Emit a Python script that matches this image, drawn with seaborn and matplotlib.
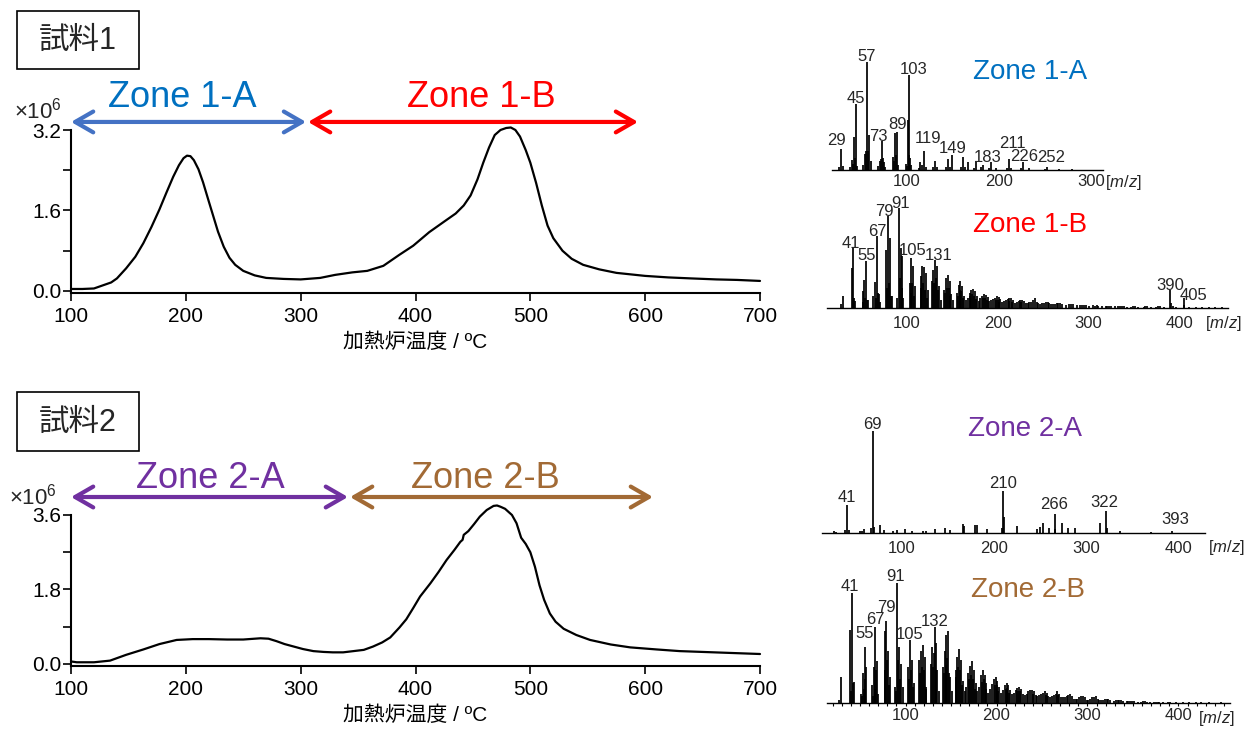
import matplotlib
matplotlib.use("Agg")
import matplotlib.pyplot as plt
import seaborn as sns
import pandas as pd
from matplotlib.patches import Rectangle
from matplotlib.ticker import MultipleLocator, FormatStrFormatter

# ---------------- data ----------------
# Sample 1 thermogram (furnace temperature degC, intensity x10^6)
T1 = [100, 110, 120, 130, 135, 140, 148, 156, 163, 170, 177, 183, 189, 194, 198,
      201, 204, 207, 211, 215, 220, 224, 228, 233, 238, 243, 250, 260, 270, 285,
      300, 317, 330, 345, 358, 372, 386, 398, 412, 425, 435, 442, 448, 454, 459,
      464, 469, 474, 479, 483, 487, 491, 496, 500, 505, 510, 515, 520, 528, 536,
      546, 560, 575, 600, 620, 640, 662, 680, 700]
V1 = [0.04, 0.04, 0.05, 0.13, 0.17, 0.25, 0.45, 0.68, 0.95, 1.27, 1.62, 1.95, 2.27, 2.50, 2.64,
      2.69, 2.68, 2.60, 2.42, 2.16, 1.78, 1.48, 1.18, 0.88, 0.66, 0.52, 0.40, 0.31, 0.26, 0.24,
      0.23, 0.26, 0.32, 0.37, 0.40, 0.50, 0.72, 0.90, 1.17, 1.38, 1.54, 1.70, 1.90, 2.22, 2.55,
      2.85, 3.10, 3.20, 3.24, 3.25, 3.20, 3.07, 2.80, 2.55, 2.15, 1.70, 1.30, 1.05, 0.80, 0.64,
      0.52, 0.43, 0.36, 0.30, 0.27, 0.25, 0.23, 0.22, 0.20]

# Sample 2 thermogram
T2 = [100, 105, 120, 134, 148, 163, 177, 192, 206, 220, 236, 250, 265, 272, 279,
      286, 294, 302, 311, 320, 328, 337, 346, 355, 363, 371, 378, 386, 392, 398,
      404, 413, 420, 427, 434, 439, 441, 442, 446, 451, 456, 462, 468, 471, 474,
      478, 484, 488, 492, 496, 500, 504, 508, 512, 517, 522, 529, 540, 552, 570,
      587, 610, 630, 660, 700]
V2 = [0.06, 0.04, 0.04, 0.08, 0.22, 0.35, 0.48, 0.58, 0.60, 0.60, 0.59, 0.59, 0.62, 0.61, 0.55,
      0.48, 0.42, 0.36, 0.31, 0.29, 0.28, 0.28, 0.31, 0.34, 0.42, 0.52, 0.64, 0.88, 1.08, 1.35,
      1.63, 1.95, 2.22, 2.51, 2.76, 2.95, 3.00, 3.12, 3.21, 3.38, 3.56, 3.72, 3.82, 3.83, 3.80,
      3.75, 3.60, 3.40, 3.05, 2.90, 2.70, 2.35, 1.90, 1.55, 1.22, 1.02, 0.85, 0.70, 0.58, 0.47,
      0.40, 0.35, 0.31, 0.28, 0.24]

Y1_TICKS = [0.0, 1.6, 3.2]
Y2_TICKS = [0.0, 1.8, 3.6]
X_TICKS = [100, 200, 300, 400, 500, 600, 700]
X_LABEL = "加熱炉温度 / ºC"
SAMPLE_NAMES = ["試料1", "試料2"]
ZONE_NAMES = ["Zone 1-A", "Zone 1-B", "Zone 2-A", "Zone 2-B"]
ZONE_RANGES = [(100, 304.7), (306.4, 593.8), (100, 341.2), (343.0, 606.8)]

# Mass spectra (m/z, relative intensity %)
Z1A_MZ = [27, 29, 31, 39, 41, 42, 43, 44, 45, 46,
          53, 55, 56, 57, 58, 59, 61,
          69, 71, 72, 73, 74, 75, 77,
          85, 86, 87, 88, 89, 91,
          99, 100, 101, 102, 103, 104, 105,
          113, 115, 117, 119, 121,
          129, 131, 133,
          143, 145, 147, 149,
          159, 161, 163, 167,
          173, 175, 181, 183, 189, 191, 197,
          209, 211, 213, 224, 226, 233, 250, 252, 265, 279]
Z1A_INT = [3, 19, 4, 3, 9, 6, 31, 11, 61, 4,
           5, 15, 18, 100, 18, 32, 8,
           4, 8, 10, 27, 11, 7, 3,
           12, 8, 34, 14, 35, 5,
           6, 4, 46, 14, 88, 11, 5,
           2, 7, 5, 18, 3,
           3, 8, 3,
           3, 10, 3, 14,
           3, 12, 3, 7,
           2, 8, 3, 5, 2, 7, 2,
           2, 10, 2, 2, 7, 2, 1, 3, 1, 1]
Z1A_LABELS = [29, 45, 57, 73, 89, 103, 119, 149, 183, 211, 226, 252]

Z1B_MZ = [27, 29,
          39, 40, 41, 42, 43,
          51, 52, 53, 54, 55, 56, 57,
          63, 65, 66, 67, 68, 69, 70,
          77, 78, 79, 80, 81, 82, 83,
          89, 91, 92, 93, 94, 95, 96,
          103, 104, 105, 106, 107, 108, 109,
          115, 116, 117, 118, 119, 120, 121, 122, 123,
          128, 129, 130, 131, 132, 133, 134, 135, 137,
          141, 142, 143, 144, 145, 146, 147, 148, 149, 151,
          155, 156, 157, 158, 159, 160, 161, 162, 163, 165,
          167, 169, 170, 171, 172, 173, 174, 175, 176, 177, 179,
          181, 183, 184, 185, 186, 187, 188, 189, 191,
          193, 195, 197, 198, 199, 200, 201, 202, 203, 205,
          207, 209, 211, 212, 213, 215, 216, 217, 219,
          221, 223, 225, 226, 227, 229, 231,
          233, 235, 237, 239, 241, 243, 245,
          247, 249, 251, 253, 255, 257, 259,
          261, 263, 265, 267, 269, 271,
          275, 279, 281, 283, 287,
          291, 293, 295, 297, 301,
          305, 307, 309, 311, 315,
          319, 321, 323, 325, 329,
          333, 335, 337, 339, 343,
          347, 349, 351, 355,
          361, 363, 365, 369,
          375, 377, 379, 383,
          390, 391, 393, 397,
          405, 406, 411, 419, 425, 433, 440, 447]
Z1B_INT = [4, 12,
           40, 8, 60, 10, 7,
           17, 6, 28, 10, 47, 8, 8,
           12, 26, 10, 72, 15, 14, 6,
           58, 20, 92, 25, 70, 12, 12,
           10, 100, 30, 60, 20, 52, 10,
           25, 15, 50, 25, 42, 12, 22,
           32, 20, 42, 25, 41, 18, 35, 10, 18,
           27, 38, 25, 48, 30, 42, 18, 22, 8,
           18, 15, 30, 20, 33, 20, 27, 12, 14, 8,
           15, 12, 23, 18, 27, 17, 22, 10, 12, 8,
           10, 15, 12, 18, 14, 19, 12, 17, 9, 12, 7,
           10, 12, 10, 14, 10, 13, 8, 11, 7,
           8, 9, 10, 8, 12, 8, 11, 6, 9, 6,
           7, 8, 9, 7, 10, 10, 6, 8, 5,
           6, 7, 8, 6, 8, 7, 5,
           5, 6, 6, 8, 10, 6, 5,
           4, 5, 5, 6, 6, 5, 4,
           4, 4, 5, 5, 5, 4,
           3, 4, 4, 4, 3,
           3, 3, 3, 3, 2,
           3, 2, 3, 2, 2,
           2, 2, 2, 2, 2,
           2, 2, 2, 2, 1,
           1, 2, 2, 1,
           1, 2, 2, 1,
           1, 2, 2, 1,
           18, 5, 2, 1,
           10, 3, 1, 1, 1, 1, 1, 1]
Z1B_LABELS = [41, 55, 67, 79, 91, 105, 131, 390, 405]

Z2A_MZ = [27, 29, 39, 41, 43, 55, 57, 59, 67, 69, 70, 77, 81, 91, 95,
          104, 111, 123, 127, 137, 147, 153, 167, 168, 180, 182, 193,
          209, 210, 211, 225, 247, 250, 253, 260, 266, 267, 274, 281, 288,
          315, 322, 323, 337, 370, 393]
Z2A_INT = [2, 1, 3, 28, 3, 2, 2, 4, 5, 100, 6, 8, 3, 2, 3,
           4, 2, 2, 2, 4, 5, 3, 9, 7, 8, 8, 4,
           5, 41, 16, 7, 4, 6, 10, 5, 19, 4, 10, 5, 5,
           10, 22, 5, 2, 1, 2]
Z2A_LABELS = [41, 69, 210, 266, 322, 393]

Z2B_MZ = [27, 29,
          39, 40, 41, 42, 43,
          51, 52, 53, 54, 55, 56, 57,
          63, 64, 65, 66, 67, 68, 69, 70,
          77, 78, 79, 80, 81, 82, 83,
          89, 90, 91, 92, 93, 94, 95, 97,
          103, 104, 105, 106, 107, 108, 109,
          115, 116, 117, 118, 119, 120, 121, 122, 123,
          128, 129, 130, 131, 132, 133, 134, 135, 137,
          141, 142, 143, 144, 145, 146, 147, 148, 149, 151,
          155, 156, 157, 158, 159, 160, 161, 162, 163, 165,
          167, 169, 170, 171, 172, 173, 174, 175, 176, 177, 179,
          181, 183, 184, 185, 186, 187, 188, 189, 191,
          193, 195, 197, 198, 199, 200, 201, 202, 203, 205,
          207, 209, 210, 211, 212, 213, 214, 215, 217,
          219, 221, 223, 224, 225, 226, 227, 229, 231,
          233, 235, 237, 239, 240, 241, 243, 245,
          247, 249, 251, 253, 254, 255, 257, 259,
          261, 263, 265, 267, 268, 269, 271, 273,
          275, 277, 279, 281, 283, 285, 287,
          289, 291, 293, 295, 297, 299, 301,
          303, 305, 307, 309, 311, 313, 315,
          317, 319, 321, 323, 325, 329,
          331, 333, 335, 337, 339, 343,
          345, 347, 349, 351, 355,
          359, 361, 363, 365, 369,
          373, 375, 377, 379, 383,
          389, 391, 397, 405, 411, 419, 425, 433, 447]
Z2B_INT = [3, 22,
           61, 10, 92, 17, 18,
           8, 6, 25, 12, 47, 20, 30,
           15, 6, 30, 12, 64, 28, 35, 8,
           60, 28, 69, 36, 44, 15, 22,
           14, 10, 100, 36, 47, 20, 33, 14,
           30, 20, 53, 28, 36, 14, 17,
           36, 25, 44, 30, 49, 28, 39, 12, 14,
           33, 47, 30, 42, 64, 50, 28, 28, 10,
           30, 25, 44, 32, 57, 38, 60, 25, 22, 10,
           28, 22, 39, 30, 45, 28, 36, 15, 19, 10,
           14, 25, 20, 31, 24, 35, 20, 28, 12, 17, 10,
           14, 24, 18, 28, 20, 24, 12, 17, 9,
           12, 16, 20, 15, 22, 15, 19, 10, 14, 9,
           11, 15, 12, 17, 13, 15, 9, 11, 8,
           9, 11, 13, 10, 14, 10, 12, 8, 7,
           8, 10, 11, 11, 8, 10, 7, 6,
           7, 8, 9, 10, 7, 9, 6, 5,
           6, 7, 8, 10, 7, 8, 5, 5,
           5, 6, 7, 8, 6, 4, 4,
           4, 5, 6, 6, 5, 3, 3,
           4, 5, 5, 6, 4, 3, 3,
           3, 4, 4, 4, 3, 2,
           3, 3, 3, 3, 2, 2,
           2, 2, 2, 2, 1,
           1, 2, 2, 1, 1,
           1, 1, 1, 1, 1,
           1, 1, 1, 1, 1, 1, 1, 1, 1]
Z2B_LABELS = [41, 55, 67, 79, 91, 105, 132]
MS_TICKS_A = [100, 200, 300]
MS_TICKS_B = [100, 200, 300, 400]

# ---------------- style ----------------
sns.set_style("ticks")
plt.rcParams["font.family"] = ["Liberation Sans", "Noto Sans CJK JP", "DejaVu Sans"]
plt.rcParams["mathtext.fontset"] = "custom"
plt.rcParams["mathtext.rm"] = "Liberation Sans"
plt.rcParams["mathtext.it"] = "Liberation Sans:italic"
plt.rcParams["axes.unicode_minus"] = False

W, H = 1255, 729
fig = plt.figure(figsize=(W / 100, H / 100), dpi=100)
fig.patch.set_facecolor("white")


def add_ax(l, t, r, b):
    return fig.add_axes([l / W, 1 - b / H, (r - l) / W, (b - t) / H])


def fx(px):
    return px / W


def fy(py):
    return 1 - py / H


C1A_ARROW, C1A_TEXT = "#4472C4", "#0070C0"
C1B = "#FF0000"
C2A = "#7030A0"
C2B = "#A26A35"


def thermogram(ax, T, V, yticks, ymin):
    df = pd.DataFrame({"T": T, "V": V})
    sns.lineplot(data=df, x="T", y="V", ax=ax, color="black", lw=1.6, sort=False)
    for ln in ax.lines:
        ln.set_clip_on(False)
    ax.set_xlim(100, 700)
    ax.set_ylim(ymin, yticks[-1])
    ax.set_xticks(X_TICKS)
    ax.set_yticks(yticks)
    ax.yaxis.set_minor_locator(MultipleLocator(yticks[1] / 2))
    ax.yaxis.set_major_formatter(FormatStrFormatter("%.1f"))
    for s in ["top", "right"]:
        ax.spines[s].set_visible(False)
    for s in ["left", "bottom"]:
        ax.spines[s].set_linewidth(1.5)
        ax.spines[s].set_color("black")
    ax.tick_params(axis="both", which="both", direction="out", length=5.5,
                   width=1.2, color="black", labelsize=15, labelcolor="black")
    ax.tick_params(axis="x", pad=4.5)
    ax.tick_params(axis="y", pad=1.5)
    ax.set_xlabel(X_LABEL, fontsize=15, labelpad=5, color="black")
    ax.set_ylabel("")
    ax.grid(False)


def zone_arrow(ax, x0, x1, y, color):
    ax.annotate("", xy=(x1, y), xytext=(x0, y), xycoords="data",
                arrowprops=dict(arrowstyle="<->,head_length=1.3,head_width=0.75",
                                color=color, lw=3, shrinkA=0, shrinkB=0,
                                mutation_scale=10),
                annotation_clip=False)


# ---- sample 1 thermogram ----
ax1 = add_ax(71, 130, 760, 293)
thermogram(ax1, T1, V1, Y1_TICKS, -0.04)
zone_arrow(ax1, ZONE_RANGES[0][0], ZONE_RANGES[0][1], 3.36, C1A_ARROW)
zone_arrow(ax1, ZONE_RANGES[1][0], ZONE_RANGES[1][1], 3.36, C1B)
ax1.text(196.7, 3.657, ZONE_NAMES[0], color=C1A_TEXT, fontsize=26, ha="center",
         va="baseline", clip_on=False)
ax1.text(457.7, 3.657, ZONE_NAMES[1], color=C1B, fontsize=26, ha="center",
         va="baseline", clip_on=False)

# ---- sample 2 thermogram ----
ax2 = add_ax(71, 515, 760, 666)
thermogram(ax2, T2, V2, Y2_TICKS, -0.05)
zone_arrow(ax2, ZONE_RANGES[2][0], ZONE_RANGES[2][1], 4.035, C2A)
zone_arrow(ax2, ZONE_RANGES[3][0], ZONE_RANGES[3][1], 4.035, C2B)
ax2.text(221, 4.255, ZONE_NAMES[2], color=C2A, fontsize=26, ha="center",
         va="baseline", clip_on=False)
ax2.text(461, 4.255, ZONE_NAMES[3], color=C2B, fontsize=26, ha="center",
         va="baseline", clip_on=False)

# ---- x10^6 labels ----
fig.text(fx(14), fy(118), "×10$^{6}$", fontsize=16, va="baseline", ha="left")
fig.text(fx(9), fy(505), "×10$^{6}$", fontsize=16, va="baseline", ha="left")

# ---- sample boxes ----
for (top, bot), name in zip([(11, 69), (392, 451)], SAMPLE_NAMES):
    fig.patches.append(Rectangle((fx(17), fy(bot)), 122 / W, (bot - top) / H,
                                 transform=fig.transFigure, fill=True,
                                 facecolor="white", edgecolor="black", lw=1.2))
    fig.text(fx(78), fy((top + bot) / 2 + 1), name, fontsize=22, ha="center",
             va="center")


# ---- mass spectra ----
def spectrum(ax, mz, inten, xlim, ticks, labels, offsets, title, tcolor, tpos,
             pad, minor=False):
    ax.vlines(mz, 0, inten, color="black", lw=1.25)
    ax.set_xlim(*xlim)
    ax.set_ylim(0, 110)
    ax.set_yticks([])
    ax.set_xticks(ticks)
    for s in ["top", "right", "left"]:
        ax.spines[s].set_visible(False)
    ax.spines["bottom"].set_linewidth(1.0)
    ax.spines["bottom"].set_color("black")
    ax.patch.set_alpha(0)
    if minor:
        ax.xaxis.set_minor_locator(MultipleLocator(10))
        ax.tick_params(axis="x", which="both", direction="out", length=2.2,
                       width=0.8, color="black", labelsize=12, pad=pad)
    else:
        ax.tick_params(axis="x", which="both", length=0, labelsize=12, pad=pad)
    lookup = dict(zip(mz, inten))
    for m in labels:
        dx, dy = offsets.get(m, (0, 1))
        ax.annotate(str(m), xy=(m, lookup[m]), xytext=(dx * 0.72, dy * 0.72),
                    textcoords="offset points", ha="center", va="baseline",
                    fontsize=12, annotation_clip=False)
    ax.text(tpos[0], tpos[1], title, color=tcolor, fontsize=20, ha="center",
            va="baseline", clip_on=False)


axA = add_ax(832, 170 - 110 * 1.08, 1103, 170)
spectrum(axA, Z1A_MZ, Z1A_INT, (19, 313), MS_TICKS_A, Z1A_LABELS,
         {29: (-5, 4), 45: (0, 1), 57: (0, 1), 73: (-3, 0), 89: (1, 3),
          103: (4, 1), 119: (4, 8), 149: (1, 2), 183: (4, 3), 211: (3, 11),
          226: (1, 1), 252: (4, 5)},
         ZONE_NAMES[0], C1A_TEXT, (234, 84), 3.0)
fig.text(fx(1123), fy(186.7), "[$\\it{m/z}$]", fontsize=12, ha="center", va="baseline")

axB = add_ax(826.7, 308 - 110 * 0.997, 1228, 308)
spectrum(axB, Z1B_MZ, Z1B_INT, (11.5, 454), MS_TICKS_B, Z1B_LABELS,
         {41: (-3, 0), 55: (0, 1), 67: (0, 0), 79: (-3, 0), 91: (2, 0),
          105: (1, 3), 131: (4, 0), 390: (0, 0), 405: (10, -2)},
         ZONE_NAMES[1], C1B, (235.6, 76.5), 5.5)
fig.text(fx(1223.7), fy(328), "[$\\it{m/z}$]", fontsize=12, ha="center", va="baseline")

axC = add_ax(821.7, 533.3 - 110 * 1.027, 1205, 533.3)
spectrum(axC, Z2A_MZ, Z2A_INT, (13.7, 429), MS_TICKS_B, Z2A_LABELS,
         {41: (0, 3), 69: (0, 2), 210: (0, 3), 266: (0, 5), 322: (-2, 4),
          393: (3, 7)},
         ZONE_NAMES[2], C2A, (234, 94.7), 5.5)
fig.text(fx(1226.7), fy(551.7), "[$\\it{m/z}$]", fontsize=12, ha="center", va="baseline")

axD = add_ax(826.7, 703.3 - 110 * 1.2, 1230, 703.3)
spectrum(axD, Z2B_MZ, Z2B_INT, (13.4, 456.6), MS_TICKS_B, Z2B_LABELS,
         {41: (-2, 2), 55: (0, 9), 67: (0, 2), 79: (0, 8), 91: (-2, 2),
          105: (0, 1), 132: (0, 1)},
         ZONE_NAMES[3], C2B, (234.6, 88.3), 1.5, minor=True)
fig.text(fx(1216.7), fy(723.3), "[$\\it{m/z}$]", fontsize=12, ha="center", va="baseline")

fig.savefig("out.png", dpi=100, facecolor="white")
